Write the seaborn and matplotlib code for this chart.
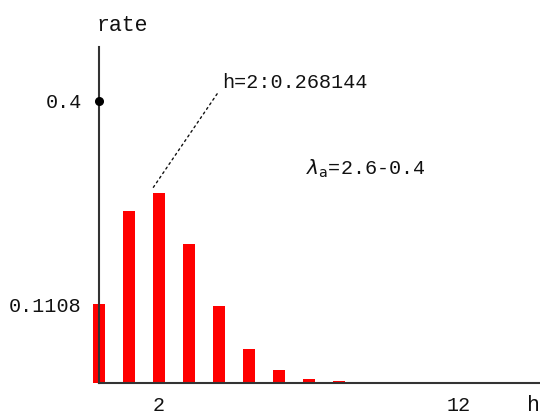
import matplotlib
matplotlib.use("Agg")
import matplotlib.pyplot as plt
import seaborn as sns
import pandas as pd

# data
h_values = [0, 1, 2, 3, 4, 5, 6, 7, 8]
rates = [0.1108, 0.2438, 0.268144, 0.1966, 0.1082, 0.0476, 0.0174, 0.0055, 0.0015]
x_tick_values = [2, 12]
y_tick_values = [0.1108, 0.4]
y_tick_labels = ["0.1108", "0.4"]
lambda_label = r"$\lambda_{\mathsf{a}}$=2.6-0.4"
peak_index = 2

sns.set_theme(style="white")
plt.rcParams["font.family"] = ["Liberation Mono", "DejaVu Sans"]

df = pd.DataFrame({"h": h_values, "rate": rates})

fig = plt.figure(figsize=(5.4, 4.17), dpi=100)
ax = fig.add_axes([0, 0, 1, 1])
ax.set_facecolor("white")

sns.barplot(data=df, x="h", y="rate", native_scale=True, color="#ff0000",
            saturation=1, width=0.37, linewidth=0, ax=ax)

ax.set_xlim(-3.3, 14.7)
ax.set_ylim(-0.0489, 0.5426)

for s in ["top", "right"]:
    ax.spines[s].set_visible(False)
ax.spines["left"].set_position(("data", 0))
ax.spines["bottom"].set_position(("data", 0))
ax.spines["left"].set_bounds(0, 0.476)
ax.spines["bottom"].set_bounds(0, 14.7)
for s in ["left", "bottom"]:
    ax.spines[s].set_color("#333333")
    ax.spines[s].set_linewidth(1.5)
    ax.spines[s].set_zorder(3)

ax.set_xticks(x_tick_values)
ax.set_xticklabels([str(v) for v in x_tick_values])
ax.set_yticks(y_tick_values)
ax.set_yticklabels(y_tick_labels)
ax.tick_params(axis="x", length=0, pad=9.5, labelsize=14.5, colors="#111111")
ax.tick_params(axis="y", length=0, pad=12.5, labelsize=14.5, colors="#111111")
ax.set_xlabel("")
ax.set_ylabel("")

# dot on the 0.4 tick
ax.plot([0], [y_tick_values[1]], "o", color="black", ms=5.5, clip_on=False, zorder=4)

ax.text(-0.1, 0.507, "rate", fontsize=15.5, ha="left", va="center", color="#111111")
ax.text(14.47, -0.032, "h", fontsize=15.5, ha="center", va="center", color="#111111")

ax.annotate(f"h={h_values[peak_index]}:{rates[peak_index]:.6f}",
            xy=(h_values[peak_index] - 0.2, rates[peak_index] + 0.008),
            xytext=(4.1, 0.425), fontsize=14.5, ha="left", va="center",
            color="#111111",
            arrowprops=dict(arrowstyle="-", linestyle=(0, (1.5, 2.5)),
                            color="#111111", lw=1, shrinkA=2, shrinkB=0,
                            relpos=(0, 0.3)))

ax.text(6.9, 0.303, lambda_label, fontsize=14.5, ha="left", va="center", color="#111111")

fig.savefig("out.png", dpi=100, facecolor="white")
